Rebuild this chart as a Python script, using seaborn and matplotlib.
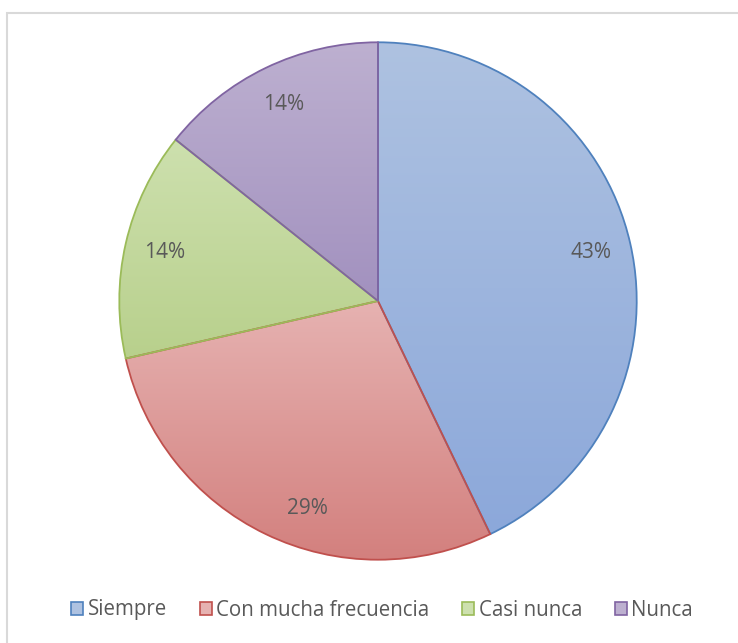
import numpy as np
import matplotlib
matplotlib.use("Agg")
import matplotlib.pyplot as plt
import matplotlib.colors as mcolors
from matplotlib.patches import Rectangle
from matplotlib import font_manager as fm
import seaborn as sns

categories = ["Siempre", "Con mucha frecuencia", "Casi nunca", "Nunca"]
values = [3, 2, 1, 1]
edge_colors = ["#4F81BD", "#C0504D", "#9BBB59", "#8064A2"]
top_colors = ["#AEC2E1", "#E6B2B1", "#CDE0AE", "#BDB0D0"]
bottom_colors = ["#8CA8DA", "#D3807E", "#B8D08C", "#A291BF"]
# per-slice label angle nudge (degrees, counter-clockwise), Excel best-fit placement
label_nudge = [0, 7, 0, 0]

sns.set_theme(style="white")
plt.rcParams["font.family"] = ["Open Sans", "DejaVu Sans"]

fp_pct = fm.FontProperties(family=["Open Sans", "DejaVu Sans"], style="normal", weight="normal", size=15)
fp_leg = fm.FontProperties(family=["Open Sans", "DejaVu Sans"], style="normal", weight="normal", size=14.8)

fig = plt.figure(figsize=(7.38, 6.43), dpi=100)
fig.patches.append(Rectangle((7 / 738, -0.1), 1.0, (643 - 13) / 643 + 0.1,
                             transform=fig.transFigure, fill=False,
                             edgecolor="#D9D9D9", linewidth=1.5))

ax = fig.add_axes([(378 - 260) / 738, (643 - 561) / 643, 520 / 738, 520 / 643])
legend_handles = []
pctdist = 0.845
wedges, texts, autotexts = ax.pie(
    values, labels=None, startangle=90, counterclock=False,
    autopct="%1.0f%%", pctdistance=pctdist, radius=1.0,
    wedgeprops=dict(linewidth=1.3),
    textprops=dict(color="#595959"),
)

for w, ec, tc, bc in zip(wedges, edge_colors, top_colors, bottom_colors):
    verts = w.get_path().vertices
    pts = w.get_patch_transform().transform(verts)
    x0, x1 = pts[:, 0].min(), pts[:, 0].max()
    y0, y1 = pts[:, 1].min(), pts[:, 1].max()
    cmap = mcolors.LinearSegmentedColormap.from_list("g", [bc, tc])
    grad = np.linspace(0, 1, 256).reshape(-1, 1)
    im = ax.imshow(grad, cmap=cmap, origin="lower", aspect="auto",
                   extent=(x0, x1, y0, y1), zorder=1, interpolation="bilinear")
    im.set_clip_path(w)
    w.set_facecolor("none")
    w.set_edgecolor(ec)
    w.set_zorder(2)
    legend_handles.append(Rectangle((0, 0), 1, 1, facecolor=tc, edgecolor=ec, linewidth=1.2))

for w, t, nudge in zip(wedges, autotexts, label_nudge):
    t.set_zorder(3)
    t.set_fontproperties(fp_pct)
    mid = np.deg2rad((w.theta1 + w.theta2) / 2 + nudge)
    t.set_position((pctdist * np.cos(mid), pctdist * np.sin(mid)))

ax.set_xlim(-1.005, 1.005)
ax.set_ylim(-1.005, 1.005)
ax.set_aspect("equal")
ax.axis("off")

fig.legend(legend_handles, categories, loc="center", bbox_to_anchor=(382 / 738, (643 - 610) / 643),
           ncol=4, frameon=False, prop=fp_leg, labelcolor="#595959",
           handlelength=0.6, handleheight=0.6, handletextpad=0.2, columnspacing=1.6)

fig.savefig("out.png", dpi=100, facecolor="white")
